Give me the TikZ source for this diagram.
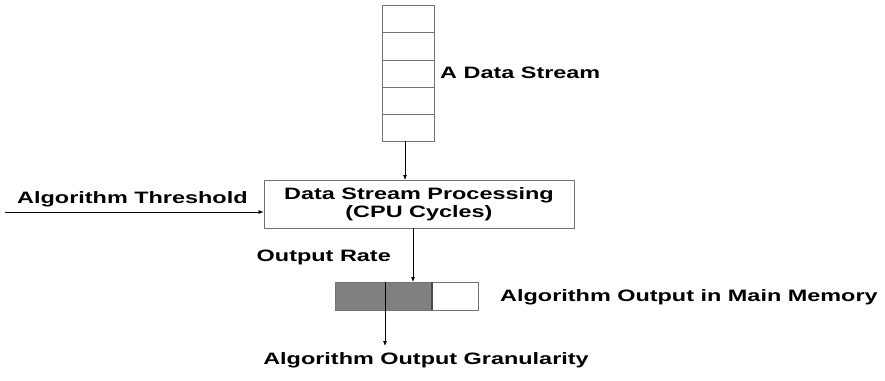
\documentclass[tikz,border=0pt]{standalone}
\usepackage{fontspec}
\setmainfont{Liberation Sans}
\usetikzlibrary{arrows.meta}
\newcommand\wtxt[1]{\scalebox{1.42}[1]{#1}}
\begin{document}
\begin{tikzpicture}[x=1pt,y=-1pt,
  lbl/.style={font=\bfseries\fontsize{16.5}{19}\selectfont, inner sep=0pt},
  box/.style={draw=black!55, line width=0.8pt},
  arr/.style={line width=0.7pt, -{Latex[length=5pt,width=4pt]}}]
\useasboundingbox (0,0) rectangle (885,380);
% stack
\foreach \i/\a/\b in {1/5/32,2/32/60,3/60/87,4/87/114,5/114/141}
  \draw[box] (382,\a) rectangle (434,\b);
\coordinate (stackbot) at (405,141);
\node[lbl, anchor=west] (ds) at (440,73) {\wtxt{A Data Stream}};
% process box
\node[box, minimum width=310pt, minimum height=48pt, inner sep=0pt, align=center,
  font=\bfseries\fontsize{16.5}{18.5}\selectfont] (proc) at (419,204) {\wtxt{Data Stream Processing}\\\wtxt{(CPU Cycles)}};
\draw[arr] (stackbot) -- (405,180);
% threshold
\coordinate (thr) at (5,212);
\node[lbl, anchor=base west] (thl) at (17,203) {\wtxt{Algorithm Threshold}};
\draw[arr] (thr) -- (proc.west |- thr);
% output rate
\node[lbl, anchor=east] (orl) at (391,257) {\wtxt{Output Rate}};
% memory bar
\fill[black!50] (335,282) rectangle (432,310);
\node[draw=black!55, line width=0.8pt, minimum width=143pt, minimum height=28pt, inner sep=0pt] (mem) at (406.5,296) {};
\draw[line width=1.2pt, black!70] (432,282) -- (432,310);
\draw[arr] (413,228) -- (413,282);
\node[lbl, anchor=west] (meml) at (500,297) {\wtxt{Algorithm Output in Main Memory}};
% granularity
\coordinate (gtop) at (385,282);
\draw[arr] (gtop) -- (385,346);
\node[lbl] (gl) at (426,360) {\wtxt{Algorithm Output Granularity}};
\end{tikzpicture}
\end{document}
